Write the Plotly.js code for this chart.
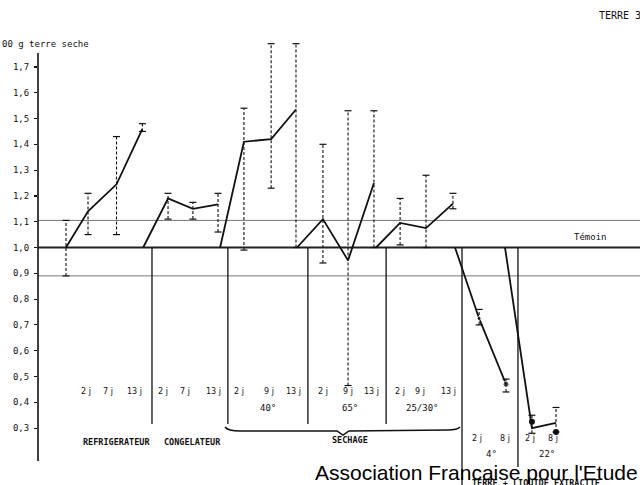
<!DOCTYPE html>
<html><head><meta charset="utf-8">
<script src="https://cdn.plot.ly/plotly-3.0.1.min.js"></script>
<style>html,body{margin:0;padding:0;background:#fff}#chart{width:640px;height:485px}</style>
</head><body><div id="chart"></div>
<script>
// ---- data (x = sampling slot along the chart, y = ratio vs control) ----
const refrigX=[0,0.85,1.95,2.95], refrigY=[1.0,1.14,1.245,1.46], refrigLo=[0.89,1.05,1.05,1.45], refrigHi=[1.105,1.21,1.43,1.48];
const congelX=[2.98,3.94,4.9,5.87], congelY=[1.0,1.19,1.15,1.167], congelLo=[null,1.11,1.11,1.06], congelHi=[null,1.21,1.175,1.21];
const sech40X=[5.95,6.87,7.92,8.88], sech40Y=[1.0,1.41,1.42,1.535], sech40Lo=[null,0.99,1.23,1.0], sech40Hi=[null,1.54,1.79,1.79];
const sech65X=[8.92,9.92,10.89,11.89], sech65Y=[1.0,1.11,0.95,1.25], sech65Lo=[null,0.94,0.465,1.0], sech65Hi=[null,1.40,1.53,1.53];
const sech25X=[11.97,12.9,13.9,14.94], sech25Y=[1.0,1.095,1.075,1.17], sech25Lo=[null,1.01,1.0,1.15], sech25Hi=[null,1.19,1.28,1.21];
const liq4X=[15.02,15.95,16.99], liq4Y=[1.0,0.725,0.47], liq4Dots=[null,0.725,0.47], liq4Lo=[null,0.70,0.44], liq4Hi=[null,0.76,0.49];
const liq22X=[16.95,17.99,18.92], liq22Y=[1.0,0.30,0.32], liq22Dots=[null,0.325,0.285], liq22Lo=[null,0.28,0.285], liq22Hi=[null,0.35,0.38];
const temoinLevel=1.0, upperLevel=1.105, lowerLevel=0.89;
const sepX=[3.32,6.25,9.34,12.36,15.29,17.45], sepBottom=[0.316,0.316,0.316,0.316,0.07,0.149];
const tickVals=[0.3,0.4,0.5,0.6,0.7,0.8,0.9,1.0,1.1,1.2,1.3,1.4,1.5,1.6,1.7];
const tickText=['0,3','0,4','0,5','0,6','0,7','0,8','0,9','1,0','1,1','1,2','1,3','1,4','1,5','1,6','1,7'];
const dayLabels1=['2 j','7 j','13 j','2 j','7 j','13 j','2 j','9 j','13 j','2 j','9 j','13 j','2 j','9 j','13 j'];
const dayLabels1X=[0.77,1.62,2.66,3.75,4.59,5.68,6.68,7.84,8.80,9.92,10.89,11.81,12.9,13.67,14.75];
const dayLabels2=['2 j','8 j','2 j','8 j'];
const dayLabels2X=[15.87,16.95,17.92,18.80];
const tempLabels1=['40°','65°','25/30°'], tempLabels1X=[7.80,10.97,13.78];
const tempLabels2=['4°','22°'], tempLabels2X=[16.41,18.57];

// ---- helpers for placement (pixel -> axis units) ----
const sx=px=>(px-66)/25.9, vy=py=>1+(247.5-py)/258;
const X0=sx(38), X1=sx(640);

const traces=[];
function errTrace(xs,lo,hi){
  const ex=[],ey=[],cx=[],cy=[];
  xs.forEach((x,i)=>{ if(lo[i]==null) return; ex.push(x,x,null); ey.push(lo[i],hi[i],null); cx.push(x,x); cy.push(lo[i],hi[i]); });
  traces.push({x:ex,y:ey,mode:'lines',line:{color:'#111',width:1.1,dash:'3px,2px'},hoverinfo:'skip'});
  traces.push({x:cx,y:cy,mode:'markers',marker:{symbol:'line-ew',size:5,line:{color:'#111',width:1.2}},hoverinfo:'skip'});
}
function lineTrace(xs,ys){ traces.push({x:xs,y:ys,mode:'lines',line:{color:'#111',width:1.8},hoverinfo:'skip'}); }

// reference lines
[[upperLevel,'#777',1],[lowerLevel,'#777',1],[temoinLevel,'#222',2]].forEach(([lv,c,w])=>{
  traces.push({x:[X0,X1],y:[lv,lv],mode:'lines',line:{color:c,width:w},hoverinfo:'skip'});
});
// separators
sepX.forEach((x,i)=>traces.push({x:[x,x],y:[temoinLevel,sepBottom[i]],mode:'lines',line:{color:'#111',width:1.3},hoverinfo:'skip'}));

[[refrigX,refrigY,refrigLo,refrigHi],[congelX,congelY,congelLo,congelHi],[sech40X,sech40Y,sech40Lo,sech40Hi],
 [sech65X,sech65Y,sech65Lo,sech65Hi],[sech25X,sech25Y,sech25Lo,sech25Hi],[liq4X,liq4Y,liq4Lo,liq4Hi],[liq22X,liq22Y,liq22Lo,liq22Hi]]
 .forEach(([xs,ys,lo,hi])=>{ errTrace(xs,lo,hi); lineTrace(xs,ys); });
traces.push({x:liq4X,y:liq4Dots,mode:'markers',marker:{color:'#111',size:[0,4,6]},hoverinfo:'skip'});
traces.push({x:liq22X,y:liq22Dots,mode:'markers',marker:{color:'#111',size:6},hoverinfo:'skip'});

const mono='DejaVu Sans Mono', sans='DejaVu Sans';
const ann=[];
function txt(x,y,t,size,font,opts){ ann.push(Object.assign({x:x,y:y,text:t,showarrow:false,xref:'x',yref:'y',font:{family:font||mono,size:size||9,color:'#111'}},opts||{})); }
dayLabels1.forEach((t,i)=>txt(dayLabels1X[i],vy(391),t,8,sans));
dayLabels2.forEach((t,i)=>txt(dayLabels2X[i],vy(438),t,8,sans));
tempLabels1.forEach((t,i)=>txt(tempLabels1X[i],vy(408),t,9));
tempLabels2.forEach((t,i)=>txt(tempLabels2X[i],vy(454),t,9));
txt(sx(116),vy(442),'<b>REFRIGERATEUR</b>',8.5);
txt(sx(192),vy(442),'<b>CONGELATEUR</b>',8.5);
txt(sx(350),vy(440),'<b>SECHAGE</b>',8.5);
txt(sx(590),vy(237),'Témoin',9);
txt(sx(536),vy(483),'<b>TERRE + LIQUIDE EXTRACTIF</b>',8.5);
ann.push({xref:'paper',yref:'paper',x:-38/602,y:1-44/485,xanchor:'left',yanchor:'middle',text:'00 g terre seche',showarrow:false,font:{family:mono,size:9,color:'#111'}});
ann.push({xref:'paper',yref:'paper',x:(597-38)/602,y:1-15/485,xanchor:'left',yanchor:'middle',text:'TERRE 3',showarrow:false,font:{family:mono,size:10,color:'#111'}});
ann.push({xref:'paper',yref:'paper',x:(313-38)/602,y:1-472/485,xanchor:'left',yanchor:'middle',text:"Association Francaise pour l'Etude",showarrow:false,font:{family:'Liberation Sans',size:21,color:'#000'}});

const brace=`M ${sx(225)},${vy(427)} Q ${sx(228)},${vy(431)} ${sx(240)},${vy(431)} L ${sx(337)},${vy(431)} L ${sx(343)},${vy(435)} L ${sx(349)},${vy(431)} L ${sx(448)},${vy(430)} Q ${sx(457)},${vy(430)} ${sx(460)},${vy(427)}`;

const layout={
  width:640,height:485,margin:{l:38,r:0,t:0,b:0},paper_bgcolor:'#fff',plot_bgcolor:'#fff',showlegend:false,
  xaxis:{range:[X0,X1],visible:false,fixedrange:true},
  yaxis:{range:[vy(485),vy(0)],tickvals:tickVals,ticktext:tickText,ticks:'outside',ticklen:3,tickcolor:'#111',tickwidth:1.2,
         showgrid:false,zeroline:false,showline:false,ticklabelstandoff:3,tickfont:{family:mono,size:9,color:'#111'},fixedrange:true},
  shapes:[
    {type:'line',xref:'paper',yref:'y',x0:0,x1:0,y0:vy(53),y1:vy(461),line:{color:'#111',width:1.6}},
    {type:'path',xref:'x',yref:'y',path:brace,line:{color:'#111',width:1.5}}
  ],
  annotations:ann
};
Plotly.newPlot('chart',traces,layout,{displayModeBar:false,staticPlot:true});
</script></body></html>
